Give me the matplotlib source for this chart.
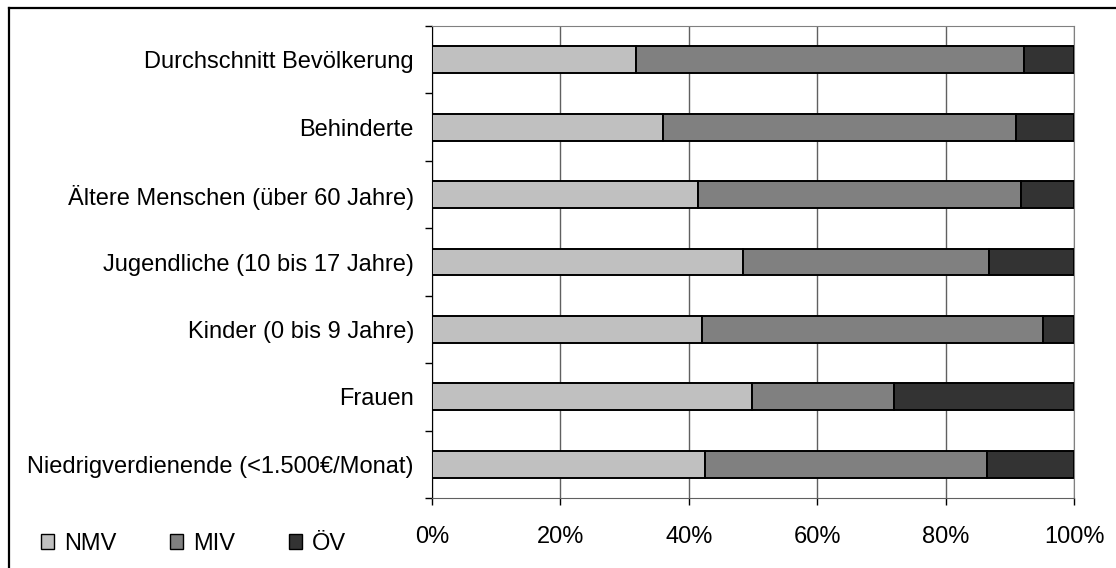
import matplotlib.pyplot as plt
import numpy as np
from matplotlib.lines import Line2D
from matplotlib.patches import Patch

plt.rcParams['font.family'] = ['Liberation Sans', 'DejaVu Sans']

groups = ['Durchschnitt Bevölkerung', 'Behinderte', 'Ältere Menschen (über 60 Jahre)',
          'Jugendliche (10 bis 17 Jahre)', 'Kinder (0 bis 9 Jahre)', 'Frauen',
          'Niedrigverdienende (<1.500€/Monat)']
nmv = [31.8, 36.0, 41.4, 48.4, 42.1, 49.8, 42.6]
miv = [60.4, 55.0, 50.4, 38.3, 53.0, 22.2, 43.8]
oev = [7.8, 9.0, 8.2, 13.3, 4.9, 28.0, 13.6]
modes = ['NMV', 'MIV', 'ÖV']
colors = ['#c0c0c0', '#808080', '#333333']
xticks = [0, 20, 40, 60, 80, 100]

fig = plt.figure(figsize=(11.16, 5.68), dpi=100)
ax = fig.add_axes([432 / 1116, 70 / 568, 642 / 1116, 472 / 568])

y = np.arange(len(groups))
left = np.zeros(len(groups))
for vals, c, m in zip([nmv, miv, oev], colors, modes):
    ax.barh(y, vals, left=left, height=0.4, color=c, edgecolor='black',
            linewidth=1.4, label=m, zorder=3)
    left += np.array(vals)

ax.set_xlim(0, 100)
ax.set_ylim(len(groups) - 0.5, -0.5)
ax.set_xticks(xticks)
ax.set_xticklabels([f'{v}%' for v in xticks], fontsize=17)
ax.set_yticks(y)
ax.set_yticklabels(groups, fontsize=17)
ax.set_yticks(np.arange(len(groups) + 1) - 0.5, minor=True)
ax.tick_params(axis='y', which='major', length=0, pad=13)
ax.tick_params(axis='y', which='minor', length=5, width=1, direction='out')
ax.tick_params(axis='x', length=5, width=1, direction='out', pad=15)
ax.grid(axis='x', color='#606060', linewidth=1, zorder=0)

ax.spines['top'].set_color('#808080')
ax.spines['right'].set_color('#808080')
ax.spines['bottom'].set_color('#606060')
ax.spines['left'].set_color('black')

handles = [Patch(facecolor=c, edgecolor='black', linewidth=1) for c in colors]
fig.legend(handles, modes, loc='lower left', bbox_to_anchor=(20 / 1116, -8 / 568), ncol=3,
           frameon=False, fontsize=17, handlelength=0.55, handleheight=0.55,
           handletextpad=0.4, columnspacing=2.3)

# outer frame: only top and left edges are visible in the picture
fig.add_artist(Line2D([9 / 1116, 1], [1 - 8 / 568, 1 - 8 / 568], transform=fig.transFigure,
                      color='black', linewidth=1.6))
fig.add_artist(Line2D([9 / 1116, 9 / 1116], [0, 1 - 8 / 568], transform=fig.transFigure,
                      color='black', linewidth=1.6))

fig.savefig('out.png', dpi=100)
